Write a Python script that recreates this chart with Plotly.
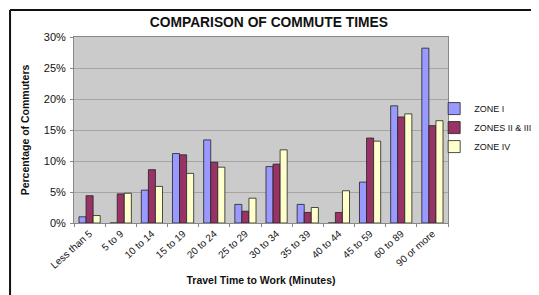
import plotly.graph_objects as go

categories = ["Less than 5", "5 to 9", "10 to 14", "15 to 19", "20 to 24", "25 to 29",
              "30 to 34", "35 to 39", "40 to 44", "45 to 59", "60 to 89", "90 or more"]
zone_1 = [1.0, 0.0, 5.3, 11.2, 13.4, 3.0, 9.1, 3.0, 0.0, 6.6, 18.9, 28.2]
zone_2_3 = [4.4, 4.7, 8.6, 11.0, 9.8, 1.9, 9.5, 1.7, 1.7, 13.7, 17.1, 15.7]
zone_4 = [1.2, 4.8, 5.9, 8.0, 9.0, 4.0, 11.8, 2.5, 5.2, 13.2, 17.6, 16.5]
series_names = ["ZONE I", "ZONES II & III", "ZONE IV"]
series_colors = ["#9999FF", "#993366", "#FFFFCC"]

fig = go.Figure()
for name, vals, col in zip(series_names, [zone_1, zone_2_3, zone_4], series_colors):
    fig.add_trace(go.Bar(
        x=categories, y=[v / 100 for v in vals], name=name,
        marker=dict(color=col, line=dict(color="#222222", width=0.8)),
    ))

font_family = "Liberation Sans, Arial, sans-serif"
fig.update_layout(
    width=531, height=287,
    margin=dict(l=66, r=91, t=29, b=72, autoexpand=False),
    paper_bgcolor="white",
    plot_bgcolor="#CBCBCB",
    barmode="group",
    bargap=0.32,
    bargroupgap=0,
    font=dict(family=font_family, color="#111111"),
    title=dict(text="<b>COMPARISON OF COMMUTE TIMES</b>", x=0.521, xref="paper",
               y=1, yref="container", yanchor="top", pad=dict(t=9),
               font=dict(size=13.8, family=font_family, color="#111111")),
    showlegend=True,
    legend=dict(x=0.963, xanchor="left", y=0.513, yanchor="middle",
                bgcolor="rgba(0,0,0,0)", font=dict(size=9, color="#111111"),
                tracegroupgap=0, itemwidth=30),
    shapes=[
        dict(type="line", xref="paper", yref="paper", x0=-0.171, x1=-0.171, y0=-0.5, y1=1.145,
             line=dict(color="#111111", width=2), layer="above"),
        dict(type="line", xref="paper", yref="paper", x0=-0.171, x1=1.5, y0=1.145, y1=1.145,
             line=dict(color="#111111", width=2), layer="above"),
    ],
)
fig.update_xaxes(
    tickangle=-42, tickfont=dict(size=10), automargin=False,
    title=dict(text="<b>Travel Time to Work (Minutes)</b>", font=dict(size=10.5), standoff=6),
    showline=True, linecolor="#888888", mirror=True,
    ticks="outside", ticklen=3, tickcolor="#888888", tickson="boundaries",
    showgrid=False,
)
fig.update_yaxes(
    range=[0, 0.30], dtick=0.05, tickformat=".0%", automargin=False,
    tickfont=dict(size=11), ticklabelstandoff=2,
    title=dict(text="<b>Percentage of Commuters</b>", font=dict(size=10.5), standoff=12),
    showgrid=True, gridcolor="#A5A5A5", gridwidth=1,
    showline=True, linecolor="#888888", mirror=True,
    ticks="outside", ticklen=3, tickcolor="#888888",
    zeroline=False,
)
fig.write_html("out.html")
